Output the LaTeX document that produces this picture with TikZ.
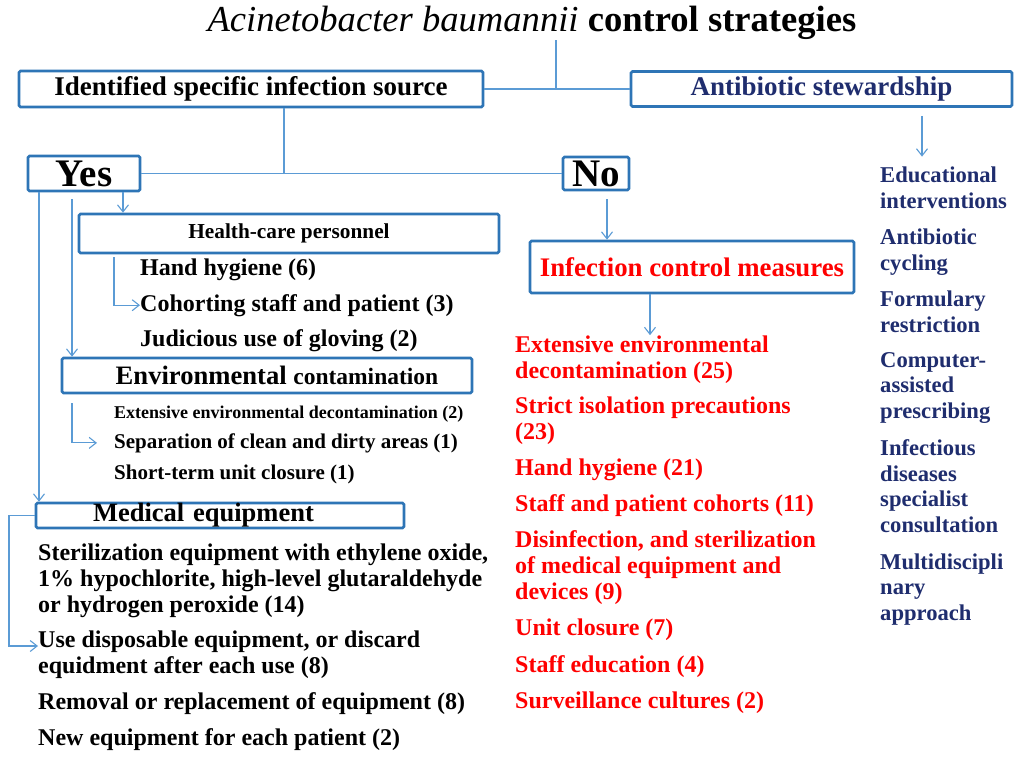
\documentclass[tikz,border=0pt]{standalone}
\usepackage{fontspec}
\setmainfont{Liberation Serif}
\usetikzlibrary{arrows.meta}

\definecolor{boxblue}{RGB}{46,117,182}
\definecolor{linkblue}{RGB}{91,155,213}
\definecolor{navytext}{RGB}{31,45,110}
\definecolor{redtext}{RGB}{255,0,0}
\newcommand{\fsz}[2]{\fontsize{#1}{#2}\selectfont}

\begin{document}
\begin{tikzpicture}[x=1pt, y=-1pt,
    >={Straight Barb[length=7pt,width=11pt]},
    box/.style={draw=boxblue, line width=2.6pt, rounded corners=1.5pt, inner sep=0pt},
    link/.style={draw=linkblue, line width=1.1pt},
    item/.style={anchor=base west, inner sep=0pt, align=left, font=\bfseries\fsz{24}{26}},
    reditem/.style={item, text=redtext},
    blueitem/.style={item, text=navytext, font=\bfseries\fsz{22.6}{25.5}}]

    \useasboundingbox (0,0) rectangle (1024,757);

    % title and the two main branches
    \node[anchor=base, inner sep=0pt, font=\fsz{36.6}{40}] (title) at (532,32)
        {\itshape Acinetobacter baumannii \upshape\bfseries control strategies};

    \node[box, minimum width=464, minimum height=36, font=\bfseries\fsz{27}{30}] (ident) at (251,89)
        {Identified specific infection source};
    \node[box, minimum width=381, minimum height=35, font=\bfseries\fsz{27}{30}, text=navytext] (anti) at (821.5,89)
        {Antibiotic stewardship};

    \node[box, minimum width=112, minimum height=35, font=\bfseries\fsz{39}{40}] (yes) at (84,173.5) {Yes};
    \node[box, minimum width=66, minimum height=33, font=\bfseries\fsz{39}{40}] (no) at (596,173.5) {No};

    % yes side
    \node[box, minimum width=420, minimum height=39, font=\bfseries\fsz{21.3}{24}] (hcp) at (289,233.5)
        {Health-care personnel};
    \node[item] (h1) at (140,275) {Hand hygiene (6)};
    \node[item] (h2) at (140,311) {Cohorting staff and patient (3)};
    \node[item] (h3) at (140,346) {Judicious use of gloving (2)};

    \node[box, minimum width=410, minimum height=35, font=\bfseries] (env) at (267,375.5)
        {\hspace*{20pt}\fsz{26.6}{30}Environmental \fsz{23.5}{26}contamination};
    \node[item, font=\bfseries\fsz{18}{20}] (e1) at (114,418) {Extensive environmental decontamination (2)};
    \node[item, font=\bfseries\fsz{21}{24}] (e2) at (114,448) {Separation of clean and dirty areas (1)};
    \node[item, font=\bfseries\fsz{21}{24}] (e3) at (114,479) {Short-term unit closure (1)};

    \node[box, minimum width=368, minimum height=25, text width=340, align=left, font=\bfseries\fsz{26.5}{28}] (med) at (220,515.5)
        {\hspace*{43pt}Medical equipment};
    \node[item] (m1) at (38,612) {Sterilization equipment with ethylene oxide,\\1\% hypochlorite, high-level glutaraldehyde\\or hydrogen peroxide (14)};
    \node[item] (m2) at (38,673) {Use disposable equipment, or discard\\equidment after each use (8)};
    \node[item] (m3) at (38,709) {Removal or replacement of equipment (8)};
    \node[item] (m4) at (38,745) {New equipment for each patient (2)};

    % no side
    \node[box, minimum width=324, minimum height=52, font=\bfseries\fsz{26.8}{30}, text=redtext] (icm) at (692,267)
        {Infection control measures};
    \node[reditem] (r1) at (515,378) {Extensive environmental\\decontamination (25)};
    \node[reditem] (r2) at (515,439) {Strict isolation precautions\\(23)};
    \node[reditem] (r3) at (515,475) {Hand hygiene (21)};
    \node[reditem] (r4) at (515,511) {Staff and patient cohorts (11)};
    \node[reditem] (r5) at (515,599) {Disinfection, and sterilization\\of medical equipment and\\devices (9)};
    \node[reditem] (r6) at (515,635) {Unit closure (7)};
    \node[reditem] (r7) at (515,672) {Staff education (4)};
    \node[reditem] (r8) at (515,708) {Surveillance cultures (2)};

    % stewardship side
    \node[blueitem] (s1) at (880,208) {Educational\\interventions};
    \node[blueitem] (s2) at (880,270) {Antibiotic\\cycling};
    \node[blueitem] (s3) at (880,332) {Formulary\\restriction};
    \node[blueitem] (s4) at (880,418) {Computer-\\assisted\\prescribing};
    \node[blueitem] (s5) at (880,532) {Infectious\\diseases\\specialist\\consultation};
    \node[blueitem] (s6) at (880,620) {Multidiscipli\\nary\\approach};

    % junctions
    \coordinate (tj) at (556,89);
    \coordinate (ij) at (284,173.5);
    \coordinate (sa) at (922,0);
    \coordinate (na) at (607,0);
    \coordinate (ia) at (650,0);
    \coordinate (ya) at (123,0);
    \coordinate (yb) at (72,0);
    \coordinate (yc) at (39,0);
    \coordinate (hc) at (114,257);
    \coordinate (ec) at (72,403);
    \coordinate (mc) at (9,0);

    \draw[link] (title.south -| tj) -- (tj);
    \draw[link] (ident) -- (anti);
    \draw[link] (ident.south -| ij) -- (ij);
    \draw[link] (yes) -- (no);
    \draw[link,->, shorten <=8pt, shorten >=10pt] (anti.south -| sa) -- (s1.north -| sa);

    \draw[link,->] (yes.south -| ya) -- (hcp.north -| ya);
    \draw[link,->, shorten <=7pt] (yes.south -| yb) -- (env.north -| yb);
    \draw[link,->] (yes.south -| yc) -- (med.north -| yc);
    \draw[link,->] (hc) |- (h2.west);
    \draw[link,->, shorten >=17pt] (ec) |- (e2.west);
    \draw[link,->] (med.west) -- (med.west -| mc) |- ([yshift=27pt]m2.base west);

    \draw[link,->, shorten <=8pt] (no.south -| na) -- (icm.north -| na);
    \draw[link,->] (icm.south -| ia) -- (r1.north -| ia);
\end{tikzpicture}
\end{document}
